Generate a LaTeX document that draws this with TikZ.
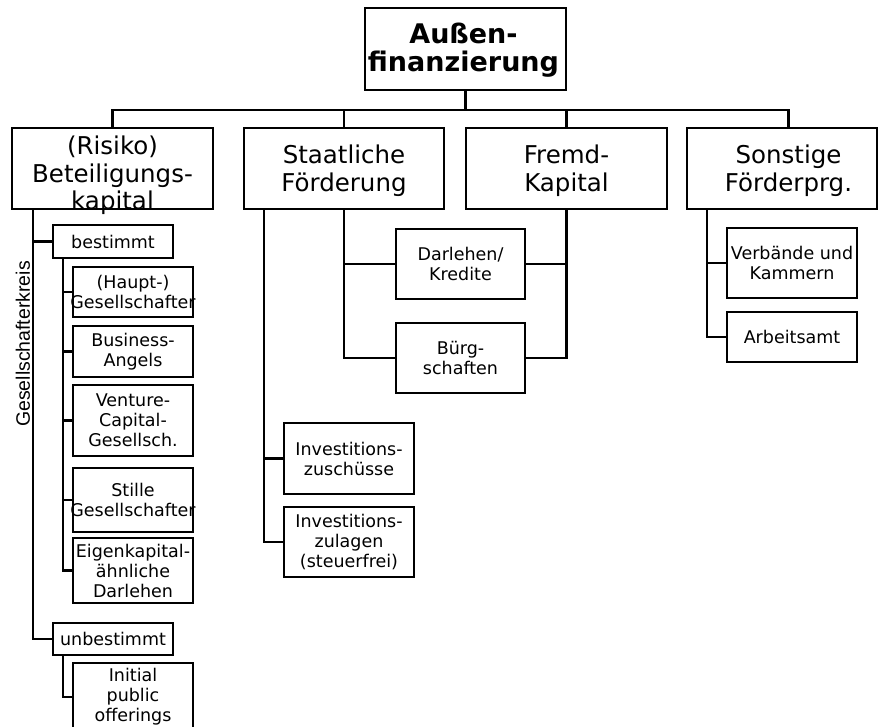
\documentclass[tikz,border=0pt]{standalone}
\usepackage{fontspec}
\setmainfont{DejaVu Sans}
\newfontfamily\sidefont{Liberation Sans}
\usetikzlibrary{calc}

% rectangle node from its corners: name, x1, y1, x2, y2
\newcommand\mkbox[5]{%
  \node[box, minimum width={#4-#2}, minimum height={#5-#3}]
    (#1) at ({(#2+#4)/2},{(#3+#5)/2}) {};}

\begin{document}
\begin{tikzpicture}[x=1pt, y=-1pt,
  box/.style={draw, line width=2pt, inner sep=0pt, outer sep=0pt},
  wire/.style={line width=2.2pt},
  headtxt/.style={font=\fontsize{27}{28}\selectfont\bfseries, align=center, inner sep=0pt},
  bigtxt/.style={font=\fontsize{24.5}{27.5}\selectfont, align=center, inner sep=0pt},
  smalltxt/.style={font=\fontsize{17.5}{20}\selectfont, align=center, inner sep=0pt},
]
\useasboundingbox (0,0) rectangle (878,727);

% root
\mkbox{top}{365}{8}{566}{90}
\node[headtxt] (toptxt) at ($(top.center)+(-2,1)$) {Außen-\\finanzierung};

% first level
\mkbox{risiko}{12}{128}{213}{209}
\mkbox{staat}{244}{128}{444}{209}
\mkbox{fremd}{466}{128}{667}{209}
\mkbox{sonst}{687}{128}{877}{209}
\node[bigtxt] (risikotxt) at ($(risiko.center)+(0,7)$) {(Risiko)\\Beteiligungs-\\kapital};
\node[bigtxt] (staattxt) at ($(staat.center)+(0,2)$) {Staatliche\\Förderung};
\node[bigtxt] (fremdtxt) at ($(fremd.center)+(0,2)$) {Fremd-\\Kapital};
\node[bigtxt] (sonsttxt) at ($(sonst.center)+(6.5,2)$) {Sonstige\\Förderprg.};

% bus from the root to the first level
\coordinate (bus) at (466,110);
\draw[wire] (top.south) -- (top.south |- bus);
\draw[wire] (risiko.north) -- (risiko.north |- bus) -- ($(sonst.north |- bus)+(6.5,0)$) -- ($(sonst.north)+(6.5,0)$);
\draw[wire] (staat.north) -- (staat.north |- bus);
\draw[wire] (fremd.north) -- (fremd.north |- bus);

% Beteiligungskapital branch
\mkbox{best}{53}{225}{173}{258}
\mkbox{unbest}{53}{623}{173}{655}
\node[smalltxt] (besttxt) at (best.center) {bestimmt};
\node[smalltxt] (unbesttxt) at (unbest.center) {unbestimmt};
\coordinate (rtrunk) at ($(risiko.south west)+(21,0)$);
\draw[wire] (rtrunk) |- (best.west);
\draw[wire] (rtrunk) |- (unbest.west);
\node[font=\sidefont\fontsize{19.5}{20}\selectfont, rotate=90, inner sep=0pt] (kreis) at (23,344) {Gesellschafterkreis};

\mkbox{haupt}{73}{267}{193}{317}
\mkbox{angels}{73}{326}{193}{377}
\mkbox{venture}{73}{385}{193}{456}
\mkbox{stille}{73}{468}{193}{532}
\mkbox{eigen}{73}{538}{193}{603}
\node[smalltxt] (haupttxt) at (haupt.center) {(Haupt-)\\Gesellschafter};
\node[smalltxt] (angelstxt) at (angels.center) {Business-\\Angels};
\node[smalltxt] (venturetxt) at (venture.center) {Venture-\\Capital-\\Gesellsch.};
\node[smalltxt] (stilletxt) at (stille.center) {Stille\\Gesellschafter};
\node[smalltxt] (eigentxt) at (eigen.center) {Eigenkapital-\\ähnliche\\Darlehen};
\coordinate (btrunk) at ($(best.south west)+(10,0)$);
\foreach \c in {haupt,angels,venture,stille,eigen}
  \draw[wire] (btrunk) |- (\c.west);

\mkbox{ipo}{73}{663}{193}{731}
\node[smalltxt] (ipotxt) at (ipo.center) {Initial\\public\\offerings};
\draw[wire] ($(unbest.south west)+(10,0)$) |- (ipo.west);

% Staatliche Förderung and Fremdkapital
\mkbox{darl}{396}{229}{525}{299}
\mkbox{buerg}{396}{323}{525}{393}
\node[smalltxt] (darltxt) at (darl.center) {Darlehen/\\Kredite};
\node[smalltxt] (buergtxt) at (buerg.center) {Bürg-\\schaften};
\draw[wire] (staat.south) |- (darl.west);
\draw[wire] (staat.south) |- (buerg.west);
\draw[wire] (fremd.south) |- (darl.east);
\draw[wire] (fremd.south) |- (buerg.east);

\mkbox{zusch}{284}{423}{414}{494}
\mkbox{zulag}{284}{507}{414}{577}
\node[smalltxt] (zuschtxt) at (zusch.center) {Investitions-\\zuschüsse};
\node[smalltxt] (zulagtxt) at (zulag.center) {Investitions-\\zulagen\\(steuerfrei)};
\coordinate (strunk) at ($(staat.south west)+(20,0)$);
\draw[wire] (strunk) |- (zusch.west);
\draw[wire] (strunk) |- (zulag.west);

% Sonstige Förderprogramme
\mkbox{verb}{727}{228}{857}{298}
\mkbox{arb}{727}{312}{857}{362}
\node[smalltxt] (verbtxt) at (verb.center) {Verbände und\\Kammern};
\node[smalltxt] (arbtxt) at (arb.center) {Arbeitsamt};
\coordinate (otrunk) at ($(sonst.south west)+(20,0)$);
\draw[wire] (otrunk) |- (verb.west);
\draw[wire] (otrunk) |- (arb.west);
\end{tikzpicture}
\end{document}
